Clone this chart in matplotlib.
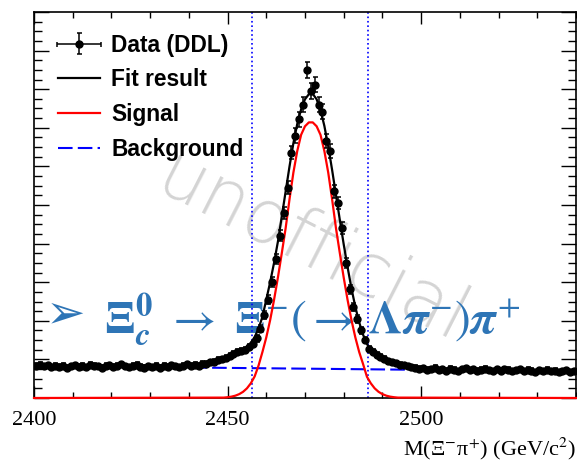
import numpy as np
import matplotlib.pyplot as plt
from matplotlib.ticker import MultipleLocator
from matplotlib.legend_handler import HandlerErrorbar

plt.rcParams['mathtext.fontset'] = 'stix'

# 1-unit bins from 2400 to 2540
bin_centers = np.arange(2400.5, 2540, 1.0)
counts = np.array([
    168, 172, 164, 170, 160, 166, 162, 168, 158, 164,
    170, 162, 166, 160, 172, 168, 164, 158, 166, 170,
    162, 168, 174, 164, 160, 166, 172, 162, 156, 164,
    160, 168, 158, 166, 162, 170, 164, 160, 168, 174,
    166, 172, 168, 178, 176, 184, 188, 196, 200, 208,
    220, 230, 236, 242, 250, 264, 280, 310, 360, 430,
    510, 600, 720, 840, 960, 1090, 1272, 1360, 1444, 1520,
    1700, 1590, 1624, 1520, 1484, 1330, 1280, 1070, 1010, 880,
    700, 564, 470, 410, 350, 300, 256, 240, 222, 212,
    202, 190, 184, 180, 172, 170, 164, 160, 156, 152,
    154, 146, 150, 156, 144, 148, 142, 152, 146, 140,
    148, 154, 144, 150, 142, 146, 152, 144, 140, 148,
    142, 150, 146, 138, 144, 148, 140, 146, 142, 136,
    144, 140, 146, 138, 142, 134, 140, 144, 136, 140,
], dtype=float)

# signal component (outside this range it is ~0)
sig_x = np.arange(2448, 2496)
sig_y = np.array([
    2, 2, 4, 7, 12, 20, 32, 50, 76, 112,
    168, 238, 314, 404, 508, 624, 750, 880, 1030, 1168,
    1280, 1364, 1408, 1428, 1428, 1408, 1364, 1280, 1168, 1030,
    880, 750, 624, 508, 404, 314, 238, 176, 110, 76,
    50, 32, 20, 12, 7, 4, 2, 2,
], dtype=float)

# total fit in the peak region
fit_x = np.arange(2440, 2501)
fit_y = np.array([
    170, 172, 175, 178, 182, 186, 190, 195, 200, 206,
    214, 222, 230, 240, 252, 266, 286, 316, 360, 420,
    510, 600, 700, 810, 940, 1070, 1200, 1320, 1420, 1496,
    1548, 1574, 1576, 1548, 1492, 1410, 1304, 1182, 1052, 922,
    796, 678, 568, 472, 392, 328, 280, 248, 226, 210,
    198, 188, 180, 173, 167, 162, 158, 155, 152, 150,
    149,
], dtype=float)

# linear background
bkg_x = [2400, 2540]
bkg_y = [166, 138]

# signal window
window = [2456.4, 2486.4]

sig_xs = np.r_[2400, sig_x, 2540]
sig_full = np.r_[0, sig_y, 0]
fit_xs = np.r_[bkg_x[0], fit_x, bkg_x[1]]
fit_full = np.r_[bkg_y[0], fit_y, bkg_y[1]]

blue_txt = '#2e75b6'

fig = plt.figure(figsize=(5.77, 4.63), dpi=100)
ax = fig.add_axes([34/577, 65/463, 542/577, 386/463])

for w in window:
    ax.axvline(w, color='blue', ls=':', lw=1.2, zorder=2)

bkg_line, = ax.plot(bkg_x, bkg_y, color='blue', lw=1.5, dashes=(7, 2.5), zorder=2.2)
sig_line, = ax.plot(sig_xs, sig_full, color='red', lw=1.6, zorder=2.6, clip_on=False)
fit_line, = ax.plot(fit_xs, fit_full, color='black', lw=1.6, zorder=3)
data = ax.errorbar(bin_centers, counts, yerr=np.sqrt(counts), xerr=0.5, fmt='o',
                   color='black', ms=5.0, capsize=1.8, elinewidth=1.1,
                   capthick=1.1, zorder=4)

ax.set_xlim(2400, 2540)
ax.set_ylim(0, 2000)
ax.xaxis.set_major_locator(MultipleLocator(50))
ax.xaxis.set_minor_locator(MultipleLocator(10))
ax.yaxis.set_major_locator(MultipleLocator(200))
ax.yaxis.set_minor_locator(MultipleLocator(50))
ax.tick_params(which='both', direction='in', top=True, right=True,
               labelleft=False, width=1.0)
ax.tick_params(axis='y', which='major', length=11)
ax.tick_params(axis='y', which='minor', length=6)
ax.tick_params(axis='x', which='major', length=8.5, pad=9.5)
ax.tick_params(axis='x', which='minor', length=4.5)
for lab in ax.get_xticklabels():
    lab.set_fontfamily('Liberation Serif')
    lab.set_fontsize(16)
for s in ax.spines.values():
    s.set_linewidth(1.2)

leg = ax.legend([data, fit_line, sig_line, bkg_line],
                ['Data (DDL)', 'Fit result', 'Signal', 'Background'],
                loc='upper left', bbox_to_anchor=(0.044, 0.944), frameon=False,
                borderpad=0, borderaxespad=0, handlelength=1.85,
                handletextpad=0.5, labelspacing=0.52,
                handler_map={type(data): HandlerErrorbar(xerr_size=0.95, yerr_size=0.45)},
                prop={'family': 'Liberation Sans', 'weight': 'bold', 'size': 16.4})

# watermark
ax.text(0.54, 0.462, 'unofficial', transform=fig.transFigure, rotation=-27,
        rotation_mode='anchor', ha='center', va='center', fontsize=53,
        color='#d4d4d4', family='DejaVu Sans', weight='light', zorder=1)

# decay label
ax.text(46/577, 1 - 315/463, '\u27a2', transform=fig.transFigure, fontsize=34,
        color=blue_txt, family='DejaVu Sans', va='center', ha='left',
        zorder=1.5, clip_on=False)
ax.text(104/577, 1 - 333/463,
        r'$\mathbf{\Xi}_{\boldsymbol{c}}^{\mathbf{0}}\ \rightarrow\ \mathbf{\Xi}^{-}(\rightarrow\,\mathbf{\Lambda}\boldsymbol{\pi}^{-})\boldsymbol{\pi}^{+}$',
        transform=fig.transFigure, fontsize=34, color=blue_txt,
        va='baseline', ha='left', zorder=1.5, clip_on=False)

fig.text(576/577, 8/463, 'M(\u039e$^{-}$\u03c0$^{+}$) (GeV/c$^{2}$)',
         ha='right', va='baseline', fontsize=16, family='Liberation Serif')

fig.savefig('out.png', dpi=100)
